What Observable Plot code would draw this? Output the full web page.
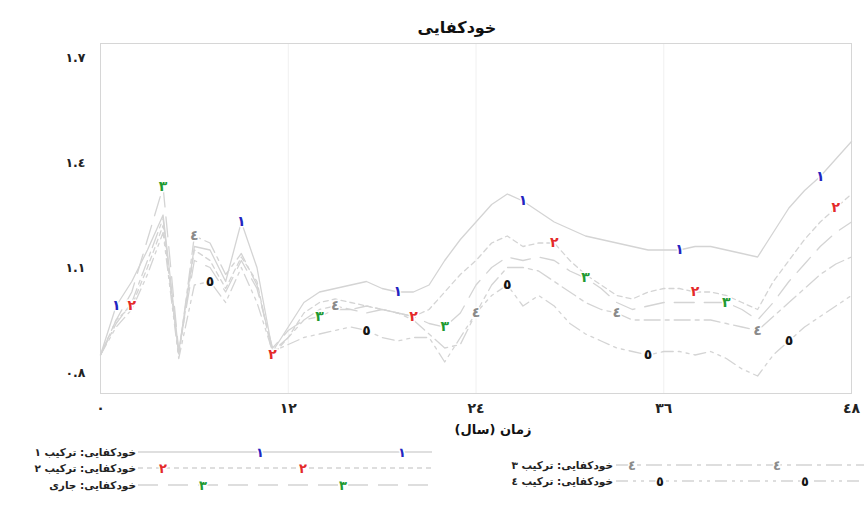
<!DOCTYPE html>
<html><head><meta charset="utf-8">
<script src="https://cdn.jsdelivr.net/npm/d3@7"></script>
<script src="https://cdn.jsdelivr.net/npm/@observablehq/plot@0.6"></script>
<style>
body{margin:0;background:#fff;font-family:"DejaVu Sans",sans-serif;}
#title{height:40px;position:relative;}
#title span{position:absolute;left:457px;top:18px;transform:translateX(-50%);font-weight:bold;font-size:16px;color:#111;white-space:nowrap;}
#chart svg, #legend svg{display:block;}
</style></head><body>
<div id="title"><span>خودکفایی</span></div>
<div id="chart"></div>
<div id="legend"></div>
<script>
// ---- data ----
const years = [0,1,2,3,4,5,6,7,8,9,10,11,12,13,14,15,16,17,18,19,20,21,22,23,24,25,26,27,28,29,30,31,32,33,34,35,36,37,38,39,40,41,42,43,44,45,46,47,48];
const s1 = [0.85,0.99,1.06,1.15,1.25,0.86,1.16,1.15,1.06,1.23,1.10,0.86,0.93,1.00,1.03,1.04,1.05,1.06,1.04,1.03,1.03,1.05,1.12,1.18,1.23,1.28,1.31,1.29,1.26,1.23,1.21,1.19,1.18,1.17,1.16,1.15,1.15,1.15,1.16,1.16,1.15,1.14,1.13,1.20,1.27,1.32,1.36,1.41,1.46];
const s2 = [0.85,0.95,0.99,1.10,1.22,0.85,1.15,1.12,1.04,1.13,1.06,0.85,0.90,0.97,1.00,1.01,1.00,0.99,0.98,0.97,0.96,0.98,1.03,1.08,1.12,1.17,1.19,1.16,1.17,1.17,1.12,1.08,1.05,1.02,1.01,1.03,1.04,1.04,1.03,1.03,1.02,1.00,0.98,1.06,1.12,1.18,1.23,1.27,1.31];
const s3 = [0.85,0.95,1.03,1.18,1.33,0.86,1.12,1.10,1.03,1.12,1.04,0.87,0.92,0.95,0.96,0.98,0.98,0.97,0.98,0.97,0.96,0.94,0.93,0.97,1.05,1.10,1.13,1.12,1.13,1.12,1.09,1.07,1.04,1.00,0.98,0.99,1.00,1.00,1.00,1.00,1.00,0.98,0.95,1.00,1.06,1.11,1.16,1.20,1.23];
const s4 = [0.85,0.94,1.00,1.12,1.24,0.85,1.19,1.17,1.08,1.14,1.05,0.86,0.90,0.95,0.98,0.99,0.98,0.99,0.98,0.97,0.95,0.91,0.87,0.88,0.97,1.05,1.10,1.10,1.09,1.06,1.03,1.00,0.98,0.97,0.95,0.95,0.95,0.95,0.95,0.95,0.94,0.93,0.92,0.96,1.00,1.04,1.08,1.11,1.13];
const s5 = [0.85,0.93,0.98,1.08,1.20,0.84,1.05,1.06,1.00,1.10,1.00,0.86,0.88,0.90,0.91,0.92,0.93,0.92,0.90,0.89,0.90,0.90,0.83,0.90,0.97,1.02,1.05,0.99,1.02,0.99,0.94,0.91,0.89,0.87,0.86,0.85,0.86,0.86,0.85,0.86,0.84,0.81,0.79,0.85,0.89,0.93,0.96,0.99,1.02];
const seriesMarks = ["١","٢","٣","٤","٥"];
const seriesNames = ["خودکفایی: ترکیب ١","خودکفایی: ترکیب ٢","خودکفایی: جاری","خودکفایی: ترکیب ٣","خودکفایی: ترکیب ٤"];
const labelYears = [[1,9,19,27,37,46],[2,11,20,29,38,47],[4,14,22,31,40],[6,15,24,33,42],[7,17,26,35,44]];
const xTicks = [0,12,24,36,48];
const yTicks = [0.8,1.1,1.4,1.7];
const xTitle = "زمان (سال)";

// ---- styles ----
const series = [s1,s2,s3,s4,s5];
const markColors = ["#2424c0","#e42a2a","#1f9a32","#8a8a8a","#151515"];
const dashes = ["none","5,4","20,10","16,5,4,5","12,5,3,5,3,5"];
const lineColor = "#d4d4d4";
const RLM = "\u200F";

const fa = v => String(v).replace(/\d/g, d => "٠١٢٣٤٥٦٧٨٩"[d]);

const lines = series.map((s,k) => Plot.line(years.map((t,i)=>({t, v:s[i]})), {
  x:"t", y:"v", stroke: lineColor, strokeWidth: 1.3, strokeDasharray: dashes[k]
}));
const labelRows = [];
labelYears.forEach((ys,k) => ys.forEach(t => labelRows.push({t, v: series[k][years.indexOf(t)], lab: seriesMarks[k], col: markColors[k]})));

const chart = Plot.plot({
  width: 864, height: 400,
  marginLeft: 100, marginRight: 13, marginTop: 3, marginBottom: 47,
  x: {domain: [0,48]},
  y: {domain: [0.74, 1.74]},
  style: {fontFamily: "DejaVu Sans", background: "white", color: "#222"},
  marks: [
    Plot.gridX(xTicks.slice(1,-1), {stroke: "#f0f0f0", strokeOpacity: 1}),
    Plot.frame({stroke: "#d6d6d6"}),
    Plot.axisX(xTicks, {tickSize: 0, tickPadding: 10, tickFormat: fa, fontSize: 14, fontWeight: "bold", label: null}),
    Plot.axisY(yTicks, {tickSize: 0, tickPadding: 15, tickFormat: fa, fontSize: 12.5, fontWeight: "bold", label: null}),
    ...lines,
    Plot.text(labelRows, {x:"t", y:"v", text:"lab", fill:"col", fontSize: 14, fontWeight: "bold", stroke: "white", strokeWidth: 3, paintOrder: "stroke"}),
    Plot.text([xTitle + RLM], {frameAnchor: "bottom", dy: 40, dx: 17, fontSize: 13, fontWeight: "bold", fill: "#111"})
  ]
});
document.getElementById("chart").appendChild(chart);
d3.select(chart).selectAll("[aria-label='x-axis tick label'] text").attr("letter-spacing", 3);
d3.select(chart).selectAll("[aria-label='y-axis tick label'] text").attr("letter-spacing", 1.5);

// ---- legend ----
const legendLayout = [
  {k:0, y:12, x1:138, x2:432, tx:136, mx:[260,402]},
  {k:1, y:28, x1:138, x2:432, tx:136, mx:[163,303]},
  {k:2, y:45, x1:138, x2:432, tx:136, mx:[203,343]},
  {k:3, y:25, x1:616, x2:864, tx:613, mx:[632,777]},
  {k:4, y:41, x1:616, x2:864, tx:613, mx:[660,805]}
];
const leg = d3.create("svg").attr("width",864).attr("height",66).style("font-family","DejaVu Sans").style("background","white");
document.getElementById("legend").appendChild(leg.node());
legendLayout.forEach(L => {
  leg.append("line").attr("x1",L.x1).attr("x2",L.x2).attr("y1",L.y).attr("y2",L.y)
    .attr("stroke",lineColor).attr("stroke-width",1.3).attr("stroke-dasharray",dashes[L.k]);
  leg.append("text").attr("x",L.tx).attr("y",L.y).attr("dy","0.35em").attr("text-anchor","end")
    .attr("font-size",10.5).attr("font-weight","bold").attr("fill","#222").text(seriesNames[L.k] + RLM);
  L.mx.forEach(mx => leg.append("text").attr("x",mx).attr("y",L.y).attr("dy","0.35em").attr("text-anchor","middle")
    .attr("font-size",13).attr("font-weight","bold").attr("fill",markColors[L.k])
    .attr("stroke","white").attr("stroke-width",3).attr("paint-order","stroke").text(seriesMarks[L.k]));
});
</script>
</body></html>
